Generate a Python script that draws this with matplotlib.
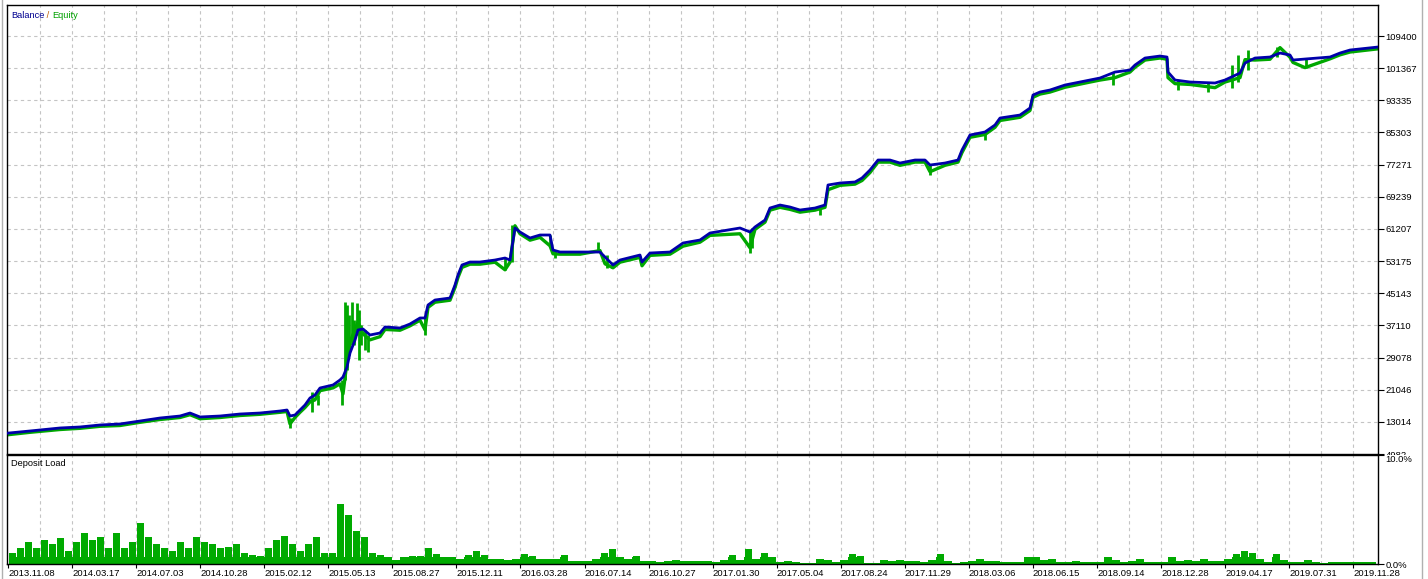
import numpy as np
import matplotlib
matplotlib.use('Agg')
import matplotlib.pyplot as plt
from matplotlib.lines import Line2D
from matplotlib.transforms import Bbox

plt.rcParams['font.family'] = ['Liberation Sans', 'DejaVu Sans']
plt.rcParams['font.size'] = 6.7

# trade index -> balance / equity
trade_no = [8, 30, 60, 80, 100, 120, 140, 160, 180, 190, 200, 220, 240, 260, 280, 287, 290, 295, 300, 305,
            310, 315, 320, 333, 340, 343, 347, 350, 355, 358, 363, 370, 380, 385, 400, 410, 420, 425, 428, 435,
            450, 455, 458, 462, 470, 480, 495, 505, 510, 515, 520, 530, 540, 550, 553, 560, 580, 600, 605, 613,
            620, 640, 642, 650, 670, 683, 700, 710, 740, 750, 755, 765, 770, 780, 790, 800, 815, 825, 828, 840,
            855, 862, 870, 878, 890, 900, 915, 925, 930, 945, 958, 962, 970, 985, 995, 1000, 1020, 1030, 1033, 1040,
            1050, 1065, 1090, 1100, 1115, 1130, 1135, 1145, 1160, 1167, 1168, 1175, 1190, 1215, 1225, 1240, 1245, 1255, 1270, 1280,
            1290, 1293, 1305, 1330, 1340, 1350, 1378]
balance = [10200, 10730, 11480, 11730, 12230, 12480, 13220, 13970, 14470, 15220, 14230, 14470, 14970, 15220, 15720, 15970, 14470, 14720, 15970, 17220,
           18970, 19720, 21470, 22220, 23470, 24220, 26710, 30210, 33460, 35960, 36210, 34710, 35210, 36710, 36460, 37460, 38960, 38960, 42200, 43450,
           43950, 47200, 49700, 52200, 52940, 52940, 53440, 53940, 53440, 61440, 60440, 58940, 59690, 59690, 55940, 55440, 55440, 55440, 54190, 52200,
           53440, 54690, 52940, 55190, 55440, 57690, 58440, 60190, 61440, 60440, 61690, 63430, 66430, 67180, 66680, 65930, 66430, 67180, 72180, 72680,
           72930, 73930, 75920, 78420, 78420, 77670, 78420, 78420, 77170, 77670, 78420, 80920, 84670, 85420, 87170, 88910, 89660, 91410, 94660, 95410,
           95910, 97160, 98410, 98910, 100400, 100900, 102150, 103900, 104400, 104150, 100400, 98410, 97910, 97660, 98410, 100150, 102650, 103900, 104150, 105150,
           104650, 103400, 103650, 104150, 105150, 105900, 106650]
equity = [9800, 10400, 11100, 11400, 11900, 12100, 12900, 13600, 14100, 14800, 13800, 14100, 14600, 14900, 15400, 15600, 12500, 14100, 15400, 16600,
          18000, 18500, 20800, 21500, 22500, 20000, 28000, 33000, 36000, 38000, 35000, 33500, 34300, 36100, 35900, 37000, 38400, 36000, 41600, 42900,
          43400, 46600, 49100, 51600, 52400, 52400, 52900, 51000, 52900, 62000, 60000, 58400, 59100, 57000, 55000, 54900, 54900, 55800, 52500, 51500,
          52900, 54100, 52000, 54600, 54900, 56900, 57900, 59600, 60000, 56500, 61100, 62900, 65900, 66600, 66100, 65400, 65900, 66600, 71000, 72100,
          72400, 73300, 75300, 77900, 77900, 77100, 77900, 77900, 75500, 77100, 77900, 80300, 84100, 84800, 86600, 88300, 89100, 90800, 94100, 94900,
          95400, 96600, 97900, 98400, 99000, 100400, 101600, 103400, 103900, 103600, 99000, 97500, 97300, 96500, 97900, 99000, 103500, 103400, 103600, 106500,
          104100, 102800, 101500, 103700, 104700, 105400, 106200]

# equity swings inside single trades: trade, low, high
swing_no = [290, 312, 318, 342, 345, 347, 349, 352, 354, 357, 359, 361, 365, 368, 425, 505, 512, 550, 555, 598,
            607, 612, 750, 752, 820, 930, 985, 1113, 1178, 1208, 1232, 1238, 1248, 1277, 1306]
swing_lo = [11480, 15470, 17220, 17220, 23470, 25960, 29710, 32210, 32210, 34710, 28460, 32210, 30960, 30460, 34710, 50950, 52940, 57190, 53940, 55440,
            51450, 51450, 55190, 56440, 64680, 74680, 83420, 97160, 95910, 95410, 96410, 97910, 100900, 104150, 101400]
swing_hi = [13970, 20470, 19720, 23470, 42950, 42200, 39700, 42950, 38460, 42700, 40950, 37210, 35960, 34710, 38960, 53940, 62190, 59690, 55940, 57940,
            54690, 52940, 60440, 61440, 66430, 77170, 85420, 100400, 98410, 97660, 102150, 104650, 105900, 106650, 103650]

# deposit load %, one value per 8 trades starting at trade 8
load = [1.0, 1.5, 2.0, 1.5, 2.2, 1.8, 2.4, 1.2, 2.0, 2.8, 2.2, 2.5, 1.5, 2.8, 1.5, 2.0, 3.8, 2.5, 1.8, 1.5,
        1.2, 2.0, 1.5, 2.5, 2.0, 1.8, 1.5, 1.6, 1.8, 1.0, 0.8, 0.7, 1.5, 2.2, 2.6, 1.8, 1.2, 1.8, 2.5, 1.0,
        1.0, 5.5, 4.5, 3.0, 2.5, 1.0, 0.8, 0.6, 0.4,
        0.6, 0.7, 0.7, 1.5, 0.9, 0.6, 0.6, 0.5, 0.8, 1.2, 0.8, 0.5, 0.5, 0.4, 0.5, 0.9, 0.7, 0.5, 0.5, 0.5,
        0.8, 0.3, 0.25, 0.25, 0.5, 1.0, 1.4, 0.6, 0.5, 0.7, 0.3, 0.3, 0.2, 0.3, 0.4, 0.3, 0.3, 0.3, 0.3, 0.2,
        0.4, 0.8, 0.4, 1.4, 0.5, 1.0, 0.6, 0.2, 0.3, 0.2, 0.1, 0.1, 0.5, 0.4, 0.2, 0.4, 0.9, 0.7, 0.1, 0.1,
        0.4, 0.3, 0.4, 0.3, 0.3, 0.2, 0.4, 0.9, 0.3, 0.1, 0.2, 0.3, 0.5, 0.3, 0.3,
        0.2, 0.2, 0.2, 0.6, 0.6, 0.4, 0.5, 0.2, 0.2, 0.3, 0.2, 0.2, 0.2, 0.6, 0.4, 0.2, 0.3, 0.5, 0.2, 0.2,
        0.2, 0.6, 0.3, 0.4, 0.3, 0.5, 0.3, 0.3, 0.5, 0.9, 1.2, 1.0, 0.5, 0.2, 0.9, 0.4, 0.2, 0.2, 0.4, 0.2,
        0.1, 0.2, 0.2, 0.2, 0.2, 0.15, 0.15]

y_ticks = [4982, 13014, 21046, 29078, 37110, 45143, 53175, 61207, 69239, 77271, 85303, 93335, 101367, 109400]
dates = ['2013.11.08', '2014.03.17', '2014.07.03', '2014.10.28', '2015.02.12', '2015.05.13', '2015.08.27',
         '2015.12.11', '2016.03.28', '2016.07.14', '2016.10.27', '2017.01.30', '2017.05.04', '2017.08.24',
         '2017.11.29', '2018.03.06', '2018.06.15', '2018.09.14', '2018.12.28', '2019.04.17', '2019.07.31',
         '2019.11.28']

W, H = 1428, 579
fig = plt.figure(figsize=(W / 100, H / 100), dpi=100)
L, R = 7, 1378
ax = fig.add_axes([L / W, (H - 454) / H, (R - L) / W, (454 - 5) / H])
ax2 = fig.add_axes([L / W, (H - 564) / H, (R - L) / W, (564 - 455) / H])

xmin, xmax = 7, 1378
grid_x = np.arange(8, xmax, 32.03)
label_x = grid_x[::2]
gstyle = dict(color='#c4c4c4', lw=0.8, ls=(0, (3, 3)))

# main panel
for gx in grid_x[1:]:
    ax.axvline(gx, zorder=0, **gstyle)
for gy in y_ticks[1:]:
    ax.axhline(gy, zorder=0, **gstyle)
ax.vlines(swing_no, swing_lo, swing_hi, color='#00a800', lw=2.0, zorder=2)
ax.plot(trade_no, equity, color='#00a800', lw=2.4, zorder=2)
ax.plot(trade_no, balance, color='#0000aa', lw=2.0, zorder=3)
ax.set_xlim(xmin, xmax)
ax.set_ylim(4982, 117150)
ax.yaxis.tick_right()
ax.set_yticks(y_ticks)
ax.set_yticklabels([str(v) for v in y_ticks])
ax.tick_params(axis='y', length=4, width=0.8, pad=1.5, labelsize=6.8)
ax.set_xticks([])
# lowest price label is cut by the lower panel, as in the terminal
lab0 = ax.get_yticklabels()[0]
lab0.set_clip_box(Bbox([[0, H - 455], [W, H]]))
lab0.set_clip_on(True)

t = ax.text(0.0028, 0.987, 'Balance', color='#000090', transform=ax.transAxes, va='top', ha='left', fontsize=6.7)
t2 = ax.annotate(' / ', xy=(1, 0), xycoords=t, va='bottom', ha='left', color='#c06000', fontsize=6.7)
ax.annotate('Equity', xy=(1, 0), xycoords=t2, va='bottom', ha='left', color='#00a000', fontsize=6.7)

# deposit load panel
for gx in grid_x[1:]:
    ax2.axvline(gx, zorder=0, **gstyle)
load_x = 12 + 8 * np.arange(len(load))
ax2.bar(load_x, load, width=7, color='#00aa00', lw=0, zorder=2)
ax2.fill_between(load_x, 0, np.minimum(load, 0.6), step='mid', color='#00aa00', lw=0, zorder=2)
ax2.set_xlim(xmin, xmax)
ax2.set_ylim(0, 10)
ax2.yaxis.tick_right()
ax2.set_yticks([0, 10])
ax2.set_yticklabels(['0.0%', '10.0%'])
ax2.tick_params(axis='y', length=4, width=0.8, pad=1.5, labelsize=6.8)
ax2.get_yticklabels()[1].set_va('top')
ax2.set_xticks(label_x)
ax2.set_xticklabels(dates, ha='left')
ax2.tick_params(axis='x', length=3, width=0.8, pad=0.5, labelsize=6.8)
ax2.text(0.0028, 0.96, 'Deposit Load', color='black', transform=ax2.transAxes, va='top', ha='left', fontsize=6.7)

for a in (ax, ax2):
    for s in a.spines.values():
        s.set_linewidth(1.0)
        s.set_color('black')

# window frame
fig.add_artist(Line2D([1.5 / W, 1.5 / W], [0, 1], color='#b0b0b0', lw=1))
fig.add_artist(Line2D([1421.5 / W, 1421.5 / W], [0, 1], color='#b0b0b0', lw=1))

fig.savefig('out.png', dpi=100)
